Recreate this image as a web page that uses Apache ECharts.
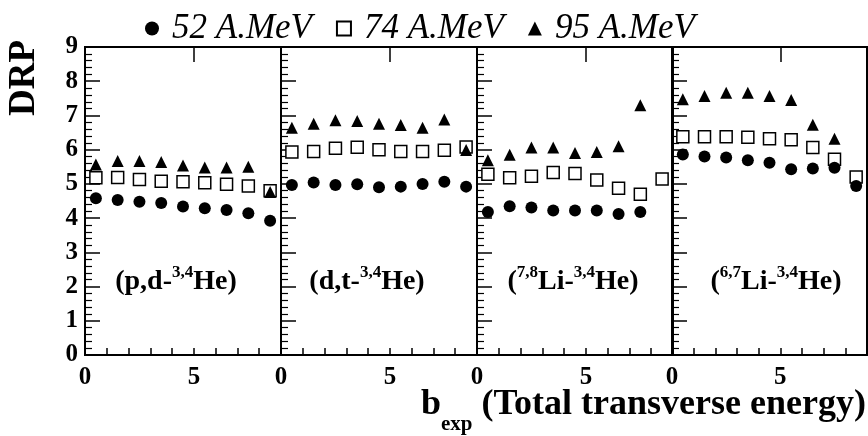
<!DOCTYPE html>
<html>
<head>
<meta charset="utf-8">
<script src="https://cdn.jsdelivr.net/npm/echarts@6/dist/echarts.min.js"></script>
<style>html,body{margin:0;padding:0;background:#fff}#c{width:868px;height:436px}</style>
</head>
<body>
<div id="c"></div>
<script>
// ---- data ----
var bins = [0.5, 1.5, 2.5, 3.5, 4.5, 5.5, 6.5, 7.5, 8.5];
var energies = ['52 A.MeV', '74 A.MeV', '95 A.MeV'];
var panelNames = ['(p,d-3,4He)', '(d,t-3,4He)', '(7,8Li-3,4He)', '(6,7Li-3,4He)'];
var xTickLabels = ['0', '5'];
var yTickLabels = ['0','1','2','3','4','5','6','7','8','9'];

var pd_52 = [4.58, 4.53, 4.48, 4.44, 4.34, 4.29, 4.24, 4.14, 3.92];
var pd_74 = [5.18, 5.19, 5.13, 5.08, 5.06, 5.03, 4.99, 4.94, 4.80];
var pd_95 = [5.57, 5.67, 5.67, 5.64, 5.54, 5.48, 5.48, 5.50, 4.76];

var dt_52 = [4.97, 5.04, 4.97, 4.99, 4.90, 4.92, 5.00, 5.06, 4.92];
var dt_74 = [5.93, 5.95, 6.04, 6.07, 6.00, 5.95, 5.95, 5.98, 6.08];
var dt_95 = [6.64, 6.76, 6.86, 6.84, 6.76, 6.72, 6.64, 6.88, 5.99];

var li78_52 = [4.18, 4.35, 4.31, 4.22, 4.22, 4.22, 4.12, 4.18, null];
var li78_74 = [5.28, 5.18, 5.22, 5.33, 5.30, 5.11, 4.87, 4.70, 5.14];
var li78_95 = [5.69, 5.85, 6.06, 6.06, 5.90, 5.93, 6.10, 7.30, null];

var li67_52 = [5.86, 5.80, 5.77, 5.69, 5.62, 5.43, 5.45, 5.47, 4.94];
var li67_74 = [6.38, 6.38, 6.38, 6.36, 6.32, 6.29, 6.06, 5.72, 5.20];
var li67_95 = [7.47, 7.57, 7.66, 7.66, 7.57, 7.45, 6.73, 6.32, null];

var panels = [
  [pd_52, pd_74, pd_95],
  [dt_52, dt_74, dt_95],
  [li78_52, li78_74, li78_95],
  [li67_52, li67_74, li67_95]
];

// ---- layout / style ----
var FONT = 'Liberation Serif';
var gridLefts = [85, 281, 477, 672];
var gridW = 196, gridTop = 47, gridH = 308;
var labelCenters = [176, 367, 573, 776];

function pairs(vals) {
  var out = [];
  for (var i = 0; i < bins.length; i++) if (vals[i] != null) out.push([bins[i], vals[i]]);
  return out;
}

var grids = [], xAxes = [], yAxes = [], series = [], graphics = [];
for (var p = 0; p < 4; p++) {
  grids.push({left: gridLefts[p], top: gridTop, width: (p === 3 ? 195 : gridW), height: gridH,
    show: true, borderColor: '#000', borderWidth: 2, backgroundColor: 'transparent'});
  xAxes.push({gridIndex: p, type: 'value', min: 0, max: 9, interval: 1,
    axisLine: {show: false},
    axisTick: {show: true, inside: true, length: 7, lineStyle: {color: '#000', width: 1.5}},
    axisLabel: {show: true, margin: 10, color: '#000', fontFamily: FONT, fontWeight: 'bold', fontSize: 25,
      showMaxLabel: false,
      formatter: function (v) { return xTickLabels.indexOf(String(v)) >= 0 ? String(v) : ''; }},
    splitLine: {show: false}});
  xAxes.push({gridIndex: p, type: 'value', min: 0, max: 9, interval: 5,
    axisLine: {show: false},
    axisTick: {show: true, inside: true, length: 15, lineStyle: {color: '#000', width: 1.5}},
    axisLabel: {show: false}, splitLine: {show: false}});
  yAxes.push({gridIndex: p, type: 'value', min: 0, max: 9, interval: 1,
    axisLine: {show: false},
    axisTick: {show: true, inside: true, length: 15, lineStyle: {color: '#000', width: 1.5}},
    minorTick: {show: true, splitNumber: 5, length: 7, lineStyle: {color: '#000', width: 1.2}},
    axisLabel: {show: p === 0, margin: 7, color: '#000', fontFamily: FONT, fontWeight: 'bold', fontSize: 25,
      formatter: function (v) { return yTickLabels[v] !== undefined ? yTickLabels[v] : ''; }},
    splitLine: {show: false}});

  // squares first, then circles and triangles on top
  series.push({name: energies[1], type: 'scatter', xAxisIndex: 2 * p, yAxisIndex: p, z: 2,
    symbol: 'rect', symbolSize: 12,
    itemStyle: {color: '#fff', borderColor: '#000', borderWidth: 1.5, opacity: 1},
    data: pairs(panels[p][1])});
  series.push({name: energies[0], type: 'scatter', xAxisIndex: 2 * p, yAxisIndex: p, z: 3,
    symbol: 'circle', symbolSize: 12, itemStyle: {color: '#000', opacity: 1},
    data: pairs(panels[p][0])});
  series.push({name: energies[2], type: 'scatter', xAxisIndex: 2 * p, yAxisIndex: p, z: 3,
    symbol: 'triangle', symbolSize: 12, itemStyle: {color: '#000', opacity: 1},
    data: pairs(panels[p][2])});

  // panel label with superscripts
  var name = panelNames[p];
  var m = name.match(/^\((?:(\d,\d)(Li))?(.*?)-(\d,\d)He\)$/);
  var txt;
  if (m[1]) {
    txt = '{a|(}{s|' + m[1] + '}{a|' + m[2] + '-}{s|' + m[4] + '}{a|He)}';
  } else {
    txt = '{a|(' + m[3] + '-}{s|' + m[4] + '}{a|He)}';
  }
  graphics.push({type: 'text', x: labelCenters[p], y: 264,
    style: {text: txt, align: 'center', verticalAlign: 'top',
      rich: {
        a: {fontFamily: FONT, fontWeight: 'bold', fontSize: 28, color: '#000', lineHeight: 32, verticalAlign: 'bottom'},
        s: {fontFamily: FONT, fontWeight: 'bold', fontSize: 17, color: '#000', lineHeight: 32, verticalAlign: 'top'}
      }}});
}

// axis titles
graphics.push({type: 'text', x: 6, y: 40, rotation: Math.PI / 2,
  style: {text: 'DRP', align: 'right', verticalAlign: 'top', fontFamily: FONT, fontWeight: 'bold', fontSize: 37, fill: '#000'}});
graphics.push({type: 'text', x: 866, y: 387,
  style: {text: '{b|b}{sub|exp}{b| (Total transverse energy)}', align: 'right', verticalAlign: 'top',
    rich: {
      b: {fontFamily: FONT, fontWeight: 'bold', fontSize: 36, color: '#000', lineHeight: 38, verticalAlign: 'top'},
      sub: {fontFamily: FONT, fontWeight: 'bold', fontSize: 21, color: '#000', lineHeight: 48, verticalAlign: 'bottom'}
    }}});

var chart = echarts.init(document.getElementById('c'), null, {renderer: 'canvas'});
chart.setOption({
  animation: false,
  backgroundColor: '#fff',
  legend: {data: energies, left: 140, top: 6, itemWidth: 14, itemHeight: 14, itemGap: 24,
    textStyle: {fontFamily: FONT, fontStyle: 'italic', fontSize: 35, color: '#000', padding: [0, 0, 0, 8]}},
  grid: grids, xAxis: xAxes, yAxis: yAxes, series: series, graphic: graphics
});
</script>
</body>
</html>
